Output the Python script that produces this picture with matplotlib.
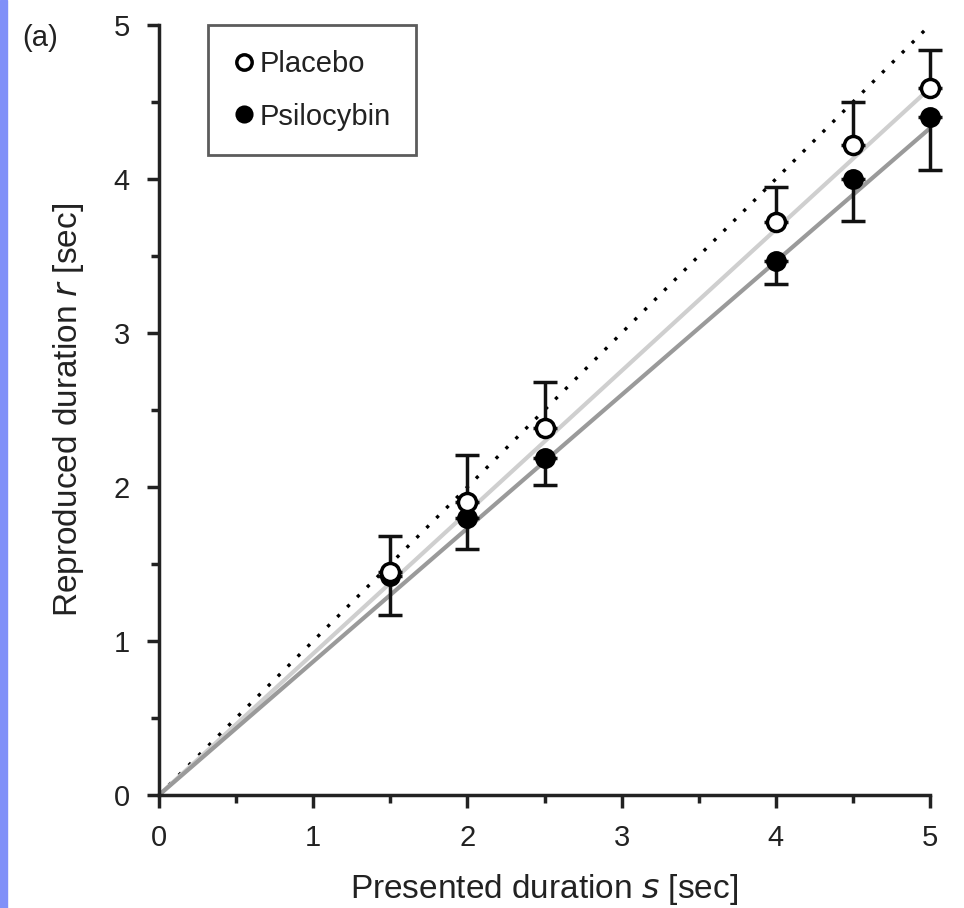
import matplotlib.pyplot as plt
import numpy as np
from matplotlib.patches import Rectangle

plt.rcParams['font.family'] = ['Liberation Sans', 'DejaVu Sans']

# data
durations = [1.5, 2.0, 2.5, 4.0, 4.5, 5.0]
placebo = [1.45, 1.90, 2.38, 3.72, 4.22, 4.59]
placebo_err_up = [0.23, 0.31, 0.30, 0.23, 0.28, 0.25]
psilo = [1.42, 1.80, 2.19, 3.47, 4.00, 4.40]
psilo_err_down = [0.25, 0.20, 0.18, 0.15, 0.27, 0.34]
fit_x = [0.0, 5.0]
placebo_fit = [0.0, 4.59]
psilo_fit = [0.0, 4.33]

fig = plt.figure(figsize=(9.64, 9.08), dpi=100)
ax = fig.add_axes([159 / 964, 1 - 795 / 908, 771 / 964, 770 / 908])

# blue strip on the left edge
fig.patches.append(Rectangle((0, 0), 7 / 964, 1, transform=fig.transFigure,
                             color='#8090f8', zorder=0))

txt = '#222222'

# identity and fitted lines
ax.plot([0, 5], [0, 5], color='black', lw=2.4, ls=(0, (1, 3.2)), zorder=2,
        clip_on=False)
ax.plot(fit_x, placebo_fit, color='#cfcfcf', lw=3, zorder=2, solid_capstyle='butt',
        clip_on=False)
ax.plot(fit_x, psilo_fit, color='#9a9a9a', lw=3, zorder=2, solid_capstyle='butt',
        clip_on=False)

# one-sided error bars
for vals, err in [(psilo, [psilo_err_down, np.zeros(len(psilo))]),
                  (placebo, [np.zeros(len(placebo)), placebo_err_up])]:
    eb = ax.errorbar(durations, vals, yerr=err, fmt='none', ecolor='#111111',
                     elinewidth=2.5, capsize=8.5, capthick=2.5, zorder=3)
    for art in list(eb.lines[1]) + list(eb.lines[2]):
        art.set_clip_on(False)

ax.plot(durations, psilo, 'o', ms=13, mfc='black', mec='black', mew=2,
        zorder=4, label='Psilocybin', clip_on=False)
ax.plot(durations, placebo, 'o', ms=13, mfc='white', mec='black', mew=2.5,
        zorder=5, label='Placebo', clip_on=False)

ax.set_xlim(0, 5)
ax.set_ylim(0, 5)
ax.set_xticks(np.arange(0, 6, 1))
ax.set_yticks(np.arange(0, 6, 1))
ax.set_xticks(np.arange(0.5, 5, 1), minor=True)
ax.set_yticks(np.arange(0.5, 5, 1), minor=True)
ax.tick_params(which='major', direction='out', length=9, width=2.5,
               labelsize=21, pad=12, color=txt, labelcolor=txt)
ax.tick_params(which='minor', direction='out', length=6, width=2.5, color=txt)
for s in ['top', 'right']:
    ax.spines[s].set_visible(False)
for s in ['left', 'bottom']:
    ax.spines[s].set_linewidth(2.5)
    ax.spines[s].set_color(txt)

ax.set_xlabel('Presented duration $\\mathit{s}$ [sec]', fontsize=24, labelpad=14,
              color=txt)
ax.set_ylabel('Reproduced duration $\\mathit{r}$ [sec]', fontsize=24, labelpad=20,
              color=txt)

handles, labels = ax.get_legend_handles_labels()
leg = ax.legend(handles[::-1], labels[::-1], loc='upper left',
                bbox_to_anchor=(0.063, 1.0), fontsize=21, frameon=True,
                fancybox=False, edgecolor='#333333', handletextpad=0.15,
                handlelength=0.8, borderpad=0.85, labelspacing=0.85,
                markerscale=0.85, borderaxespad=0.0)
leg.get_frame().set_linewidth(2)
for t in leg.get_texts():
    t.set_color(txt)

fig.text(22 / 964, 1 - 38 / 908, '(a)', fontsize=21, va='center', color=txt)

fig.savefig('out.png', dpi=100)
